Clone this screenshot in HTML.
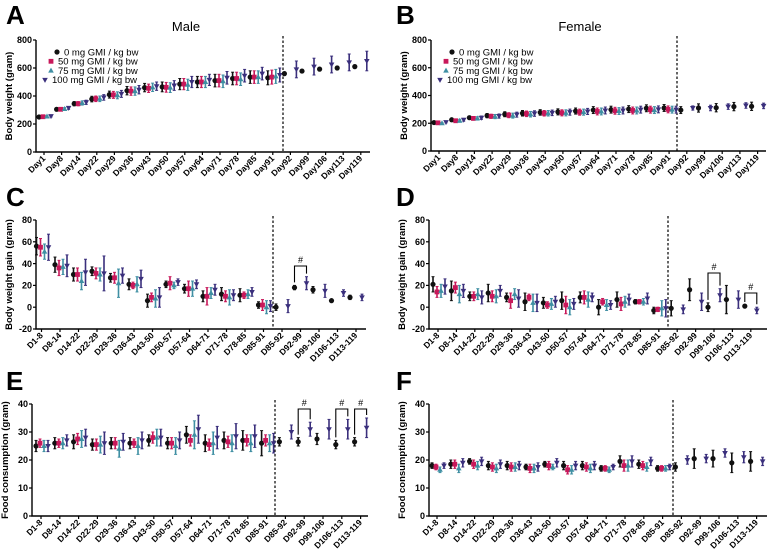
<!DOCTYPE html>
<html><head><meta charset="utf-8"><style>
html,body{margin:0;padding:0;background:#fff;}
svg{display:block;font-family:"Liberation Sans",Arial,sans-serif;}
</style></head><body>
<svg id="fig" width="776" height="560" viewBox="0 0 776 560"></svg>
<script>
// ---- category labels ----
const dayLabels = ["Day1","Day8","Day14","Day22","Day29","Day36","Day43","Day50","Day57","Day64","Day71","Day78","Day85","Day91","Day92","Day99","Day106","Day113","Day119"];
const periodLabels = ["D1-8","D8-14","D14-22","D22-29","D29-36","D36-43","D43-50","D50-57","D57-64","D64-71","D71-78","D78-85","D85-91","D85-92","D92-99","D99-106","D106-113","D113-119"];
const bwTicks = [0,200,400,600,800];
const gainTicks = [-20,0,20,40,60,80];
const foodTicks = [0,10,20,30,40];
const groupNames = ["0 mg GMI / kg bw","50 mg GMI / kg bw","75 mg GMI / kg bw","100 mg GMI / kg bw"];

// ---- A: male body weight (main phase, 4 groups) ----
const aG0 = [250,305,345,378,410,438,460,465,485,500,510,525,535,530];
const aG50 = [252,305,345,380,408,435,455,462,485,500,510,525,535,535];
const aG75 = [254,307,350,380,405,435,462,460,480,500,505,520,535,540];
const aG100 = [256,315,355,390,415,445,470,475,500,515,530,545,560,550];
const aSd = [6,10,15,20,25,30,30,35,40,40,45,45,45,50];
const aRecG0 = [560,578,592,600,610];
const aRecG0Sd = [12,12,12,12,12];
const aRecG100 = [590,610,625,640,650];
const aRecG100Sd = [60,60,60,60,70];

// ---- B: female body weight ----
const bG0 = [205,225,240,255,265,272,278,282,288,295,298,302,308,310];
const bG50 = [203,218,235,250,258,268,272,275,280,285,290,292,298,300];
const bG75 = [200,218,235,248,255,265,272,275,280,285,288,292,295,298];
const bG100 = [208,225,240,252,262,270,275,280,285,292,292,298,300,298];
const bSd = [5,10,12,15,18,20,20,22,22,25,25,25,25,25];
const bRecG0 = [295,310,312,320,322];
const bRecG0Sd = [25,30,30,30,30];
const bRecG100 = [310,310,320,328,325];
const bRecG100Sd = [15,20,20,20,20];

// ---- C: male body weight gain ----
const cG0 = [56,39,30,33,27,21,6,21,17,10,12,11,2];
const cG0Sd = [8,7,6,4,4,5,6,3,4,5,6,6,3];
const cG50 = [55,36,30,31,27,20,9,22,17,10,10,11,2];
const cG50Sd = [8,7,6,5,5,3,4,6,7,8,5,3,5];
const cG75 = [51,37,24,30,22,21,8,20,17,13,9,12,0];
const cG75Sd = [7,7,8,6,13,7,8,3,7,5,7,4,6];
const cG100 = [55,38,32,31,29,26,9,23,21,16,11,14,1];
const cG100Sd = [12,10,12,16,7,8,9,3,4,5,5,4,5];
const cRecG0 = [0,18,16,6,9];
const cRecG0Sd = [3,2,3,1,2];
const cRecG100 = [1,22,15,13,9];
const cRecG100Sd = [6,6,6,3,3];

// ---- D: female body weight gain ----
const dG0 = [21,15,10,13,9,5,4,6,9,0,7,5,-3];
const dG0Sd = [7,9,4,8,4,8,5,8,5,7,7,2,3];
const dG50 = [14,18,10,10,6,9,2,2,9,5,3,5,-2];
const dG50Sd = [5,5,4,5,7,3,3,8,6,3,6,2,2];
const dG75 = [15,12,12,10,12,4,3,0,7,2,5,5,-1];
const dG75Sd = [6,8,5,6,5,8,5,7,7,5,5,3,7];
const dG100 = [19,15,9,15,8,4,5,3,9,2,7,8,-1];
const dG100Sd = [7,6,6,5,8,8,5,5,4,4,5,5,8];
const dRecG0 = [-1,16,0,7,1];
const dRecG0Sd = [7,10,4,13,1];
const dRecG100 = [-2,5,11,7,-3];
const dRecG100Sd = [4,8,6,8,3];

// ---- E: male food consumption ----
const eG0 = [25,26,26.5,25.5,26,26,27,26,29,26,27,27,26];
const eG0Sd = [2,2,2.5,2,2,2,2,2,3,3,3,3.5,4.5];
const eG50 = [26,26,27.5,25.5,26,26,28,26,27,25.5,26.5,27,27];
const eG50Sd = [1.5,1.5,2,2,2,1.5,2,2,2,2,2,2,2];
const eG75 = [25,26,27.5,25.5,24,25,28,25,29,26,26,26,26];
const eG75Sd = [2,2,3,3,3,3,3,3,5,4,3,3,3];
const eG100 = [25,27,28,26,26.5,27,28,27,31,28,28.5,28.5,26];
const eG100Sd = [2,2,3,4,3,3,3,3,5,4,4.5,4,3.5];
const eRecG0 = [26.5,26.5,27.5,25.5,26.5];
const eRecG0Sd = [1.5,1.5,2,1.5,1.5];
const eRecG100 = [30,31,31,31,31.5];
const eRecG100Sd = [2.5,2.5,3.5,3.5,3.5];

// ---- F: female food consumption ----
const fG0 = [18,18.5,19.5,18,18,17.5,18.5,18,18,17,19.5,18.5,17];
const fG0Sd = [1,1.5,1,1.5,1.5,1,1,1.5,1.5,1,2,1.5,1];
const fG50 = [17.5,18.5,18.5,17.5,17.5,17,18,16.5,17.5,17,18,18,17];
const fG50Sd = [1,1.5,1.5,1.5,1.5,1.5,1.5,1.5,1.5,1,2,1.5,1];
const fG75 = [16.5,17,18,17,17.5,17,17.5,16.5,17,16.5,18,17.5,17];
const fG75Sd = [1,1.5,1.5,1.5,1.5,1.5,1,1.5,1.5,1,2,1.5,1];
const fG100 = [18,19,19.5,18.5,18,17.5,19,18,18,17.5,19.5,19.5,17.5];
const fG100Sd = [1,1.5,1.5,1.5,1.5,1.5,1.5,1.5,1.5,1,2,1.5,1];
const fRecG0 = [17.5,20.5,20.5,19,19.5];
const fRecG0Sd = [1.5,3.5,3,3.5,3.5];
const fRecG100 = [20,20.5,22.5,21,19.5];
const fRecG100Sd = [1.5,1.5,1.5,2,1.5];

const COLORS = ["#111111","#c8185a","#3f8fa3","#3a2f7c"];
const NS = "http://www.w3.org/2000/svg";
const svg = document.getElementById("fig");
function mk(tag, attrs, parent){
  const e = document.createElementNS(NS, tag);
  for (const k in attrs) e.setAttribute(k, attrs[k]);
  (parent||svg).appendChild(e);
  return e;
}
function marker(g, shape, x, y, col){
  let e;
  if (shape===0){ e = mk("circle",{cx:x,cy:y,r:2.6,fill:col},g); }
  else if (shape===1){ e = mk("rect",{x:x-2.4,y:y-2.4,width:4.8,height:4.8,fill:col},g); }
  else if (shape===2){ e = mk("polygon",{points:`${x},${y-3} ${x-2.8},${y+2} ${x+2.8},${y+2}`,fill:col},g); }
  else { e = mk("polygon",{points:`${x},${y+3} ${x-2.8},${y-2} ${x+2.8},${y-2}`,fill:col},g); }
  return e;
}

const panels = [
  {id:"A", x0:36, x1:370, yTop:40, yBot:152, min:0, max:800, first:44, step:17.6, dash:283, labels:dayLabels, ticks:bwTicks,
   main:[[aG0,aSd],[aG50,aSd],[aG75,aSd],[aG100,aSd]], rec:[[aRecG0,aRecG0Sd],[aRecG100,aRecG100Sd]],
   ytitle:"Body weight (gram)", title:"Male", titleX:186, legend:true, letterX:6, letterY:24, brackets:[]},
  {id:"B", x0:431, x1:766, yTop:40, yBot:151, min:0, max:800, first:439, step:17.7, dash:677, labels:dayLabels, ticks:bwTicks,
   main:[[bG0,bSd],[bG50,bSd],[bG75,bSd],[bG100,bSd]], rec:[[bRecG0,bRecG0Sd],[bRecG100,bRecG100Sd]],
   ytitle:"Body weight (gram)", title:"Female", titleX:580, legend:true, letterX:396, letterY:24, brackets:[]},
  {id:"C", x0:36, x1:366, yTop:220, yBot:329, min:-20, max:80, first:41.5, step:18.5, dash:273, labels:periodLabels, ticks:gainTicks,
   main:[[cG0,cG0Sd],[cG50,cG50Sd],[cG75,cG75Sd],[cG100,cG100Sd]], rec:[[cRecG0,cRecG0Sd],[cRecG100,cRecG100Sd]],
   ytitle:"Body weight gain (gram)", letterX:6, letterY:206, brackets:[{cat:1,y:266}]},
  {id:"D", x0:429, x1:767, yTop:220, yBot:329, min:-20, max:80, first:438, step:18.4, dash:668, labels:periodLabels, ticks:gainTicks,
   main:[[dG0,dG0Sd],[dG50,dG50Sd],[dG75,dG75Sd],[dG100,dG100Sd]], rec:[[dRecG0,dRecG0Sd],[dRecG100,dRecG100Sd]],
   ytitle:"Body weight gain (gram)", letterX:396, letterY:206, brackets:[{cat:2,y:273},{cat:4,y:293}]},
  {id:"E", x0:32, x1:368, yTop:404, yBot:516, min:0, max:40, first:41, step:18.8, dash:275, labels:periodLabels, ticks:foodTicks,
   main:[[eG0,eG0Sd],[eG50,eG50Sd],[eG75,eG75Sd],[eG100,eG100Sd]], rec:[[eRecG0,eRecG0Sd],[eRecG100,eRecG100Sd]],
   ytitle:"Food consumption (gram)", letterX:6, letterY:390, brackets:[{cat:1,y:409},{cat:3,y:409},{cat:4,y:409}]},
  {id:"F", x0:429, x1:767, yTop:404, yBot:516, min:0, max:40, first:437, step:18.8, dash:673, labels:periodLabels, ticks:foodTicks,
   main:[[fG0,fG0Sd],[fG50,fG50Sd],[fG75,fG75Sd],[fG100,fG100Sd]], rec:[[fRecG0,fRecG0Sd],[fRecG100,fRecG100Sd]],
   ytitle:"Food consumption (gram)", letterX:396, letterY:390, brackets:[]}
];

const mainOff = [-5,-1,3,7];
const recOff = [-6,6];

panels.forEach(p=>{
  const g = mk("g",{});
  
  
  const yS = v => p.yBot - (v - p.min)/(p.max - p.min)*(p.yBot - p.yTop);
  const xS = i => p.first + i*p.step;
  const nMain = p.main[0][0].length;

  const letter = mk("text",{x:p.letterX,y:p.letterY,"font-size":26,"font-weight":"bold",fill:"#000"},g);
  letter.textContent = p.id;
  
  
  if (p.title){
    const t = mk("text",{x:p.titleX,y:31,"font-size":13,"text-anchor":"middle",fill:"#000"},g);
    t.textContent = p.title;
    
    
  }
  // axes
  const ax = mk("path",{d:`M${p.x0},${p.yTop} V${p.yBot} H${p.x1}`,stroke:"#000","stroke-width":1.4,fill:"none"},g);
  
  
  p.ticks.forEach(v=>{
    const y = yS(v);
    mk("line",{x1:p.x0-3,x2:p.x0,y1:y,y2:y,stroke:"#000","stroke-width":1.2},g);
    const tl = mk("text",{x:p.x0-4,y:y+3.2,"font-size":9,"font-weight":"bold","text-anchor":"end",fill:"#000"},g);
    tl.textContent = v;
    
    
  });
  p.labels.forEach((lab,i)=>{
    const x = xS(i);
    mk("line",{x1:x,x2:x,y1:p.yBot,y2:p.yBot+3,stroke:"#000","stroke-width":1.2},g);
    const tl = mk("text",{x:0,y:0,"font-size":8.5,"font-weight":"bold","text-anchor":"end",fill:"#000",
      transform:`translate(${x+2},${p.yBot+7}) rotate(-45)`},g);
    tl.textContent = lab;
    
    
  });
  const yt = mk("text",{x:0,y:0,"font-size":9.5,"font-weight":"bold","text-anchor":"middle",fill:"#000",
    transform:`translate(${p.x0-24},${(p.yTop+p.yBot)/2}) rotate(-90)`},g);
  yt.textContent = p.ytitle;
  
  
  // dashed divider
  const dl = mk("line",{x1:p.dash,x2:p.dash,y1:p.yTop-4,y2:p.yBot,stroke:"#000","stroke-width":1.2,"stroke-dasharray":"2.5,2"},g);
  
  

  function point(x, m, s, grp){
    const pg = mk("g",{},g);
    
    
    const col = COLORS[grp];
    const y1 = yS(m - s), y2 = yS(m + s);
    mk("line",{x1:x,x2:x,y1:y1,y2:y2,stroke:col,"stroke-width":1.6},pg);
    mk("line",{x1:x-1.5,x2:x+1.5,y1:y1,y2:y1,stroke:col,"stroke-width":1},pg);
    mk("line",{x1:x-1.5,x2:x+1.5,y1:y2,y2:y2,stroke:col,"stroke-width":1},pg);
    marker(pg, grp, x, yS(m), col);
  }
  for (let gi=0; gi<4; gi++){
    const vals = p.main[gi][0], sds = p.main[gi][1];
    for (let i=0;i<nMain;i++) point(xS(i)+mainOff[gi], vals[i], sds[i], gi);
  }
  for (let r=0;r<2;r++){
    const vals = p.rec[r][0], sds = p.rec[r][1];
    for (let i=0;i<vals.length;i++) point(xS(nMain+i)+recOff[r], vals[i], sds[i], r===0?0:3);
  }
  // significance brackets
  p.brackets.forEach(b=>{
    const i = nMain + b.cat;
    const xa = xS(i)+recOff[0], xb = xS(i)+recOff[1];
    const yA = yS(p.rec[0][0][b.cat]+p.rec[0][1][b.cat]) - 3;
    const yB = yS(p.rec[1][0][b.cat]+p.rec[1][1][b.cat]) - 3;
    const br = mk("path",{d:`M${xa},${yA} V${b.y} H${xb} V${yB}`,stroke:"#000","stroke-width":1.1,fill:"none"},g);
    
    
    const h = mk("text",{x:(xa+xb)/2,y:b.y-3,"font-size":9,"text-anchor":"middle",fill:"#000"},g);
    h.textContent = "#";
    
    
  });
  if (p.legend){
    const lg = mk("g",{},g);
    
    
    const lx = p.x0 + 28;
    groupNames.forEach((nm,k)=>{
      const y = 52 + k*9.3;
      const mx = [lx-7, lx-13, lx-13, lx-19][k];
      const e = mk("g",{},lg);
      
      
      marker(e, k, mx, y, COLORS[k]);
      const t = mk("text",{x:[lx,lx-6,lx-6,lx-12][k],y:y+3.3,"font-size":9.5,fill:"#000"},e);
      t.textContent = nm;
    });
  }
});
</script>
</body></html>
